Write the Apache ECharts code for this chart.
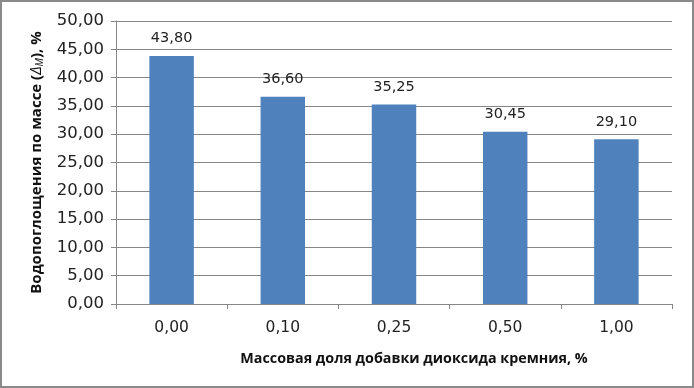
<!DOCTYPE html>
<html><head><meta charset="utf-8">
<script src="https://cdn.jsdelivr.net/npm/echarts@6/dist/echarts.min.js"></script>
<style>html,body{margin:0;padding:0;background:#fff}#c{width:694px;height:388px;box-sizing:border-box;border:2px solid #8a8a8a;}</style>
</head><body><div id="c"></div>
<script>
var categories = ['0,00','0,10','0,25','0,50','1,00'];
var values = [43.80, 36.60, 35.25, 30.45, 29.10];
var yTicks = [0, 5, 10, 15, 20, 25, 30, 35, 40, 45, 50];
function fmt(v){ return v.toFixed(2).replace('.', ','); }
var chart = echarts.init(document.getElementById('c'));
var F = '"DejaVu Sans", sans-serif';
var FB = '"Open Sans", sans-serif';
chart.setOption({
  animation: false,
  grid: {left: 114, right: 20, top: 19, bottom: 82},
  xAxis: {
    type: 'category', data: categories,
    axisLine: {lineStyle: {color: '#868686'}},
    axisTick: {show: true, length: 5, lineStyle: {color: '#868686'}},
    axisLabel: {color: '#222', fontSize: 15.5, fontFamily: F, margin: 16},
    name: 'Массовая доля добавки диоксида кремния, %',
    nameLocation: 'middle', nameGap: 48,
    nameTextStyle: {color: '#111', fontSize: 14.3, fontWeight: 'bold', fontFamily: FB, padding: [0, 0, 0, 40]}
  },
  yAxis: {
    type: 'value', min: yTicks[0], max: yTicks[yTicks.length-1], interval: 5,
    axisLine: {show: true, lineStyle: {color: '#868686'}},
    axisTick: {show: true, length: 5, lineStyle: {color: '#868686'}},
    splitLine: {lineStyle: {color: '#868686'}},
    axisLabel: {color: '#222', fontSize: 16.5, fontFamily: F, margin: 12, formatter: function(v){return fmt(v);}},
    name: '{t|Водопоглощения по массе (}{i|Δ}{s|М}{t|), %}',
    nameLocation: 'middle', nameGap: 71,
    nameTextStyle: {
      rich: {
        t: {color: '#111', fontSize: 15, fontWeight: 'bold', fontFamily: FB},
        i: {color: '#111', fontSize: 15, fontStyle: 'italic', fontFamily: FB},
        s: {color: '#111', fontSize: 10, fontStyle: 'italic', fontFamily: FB, verticalAlign: 'bottom', padding: [6,0,0,0]}
      }
    }
  },
  series: [{
    type: 'bar', data: values, barWidth: '40%',
    itemStyle: {color: '#4F81BD'},
    label: {show: true, position: 'top', distance: 10, color: '#222', fontSize: 14.5, fontFamily: F,
      formatter: function(p){ return fmt(p.value); }}
  }]
});
</script></body></html>
